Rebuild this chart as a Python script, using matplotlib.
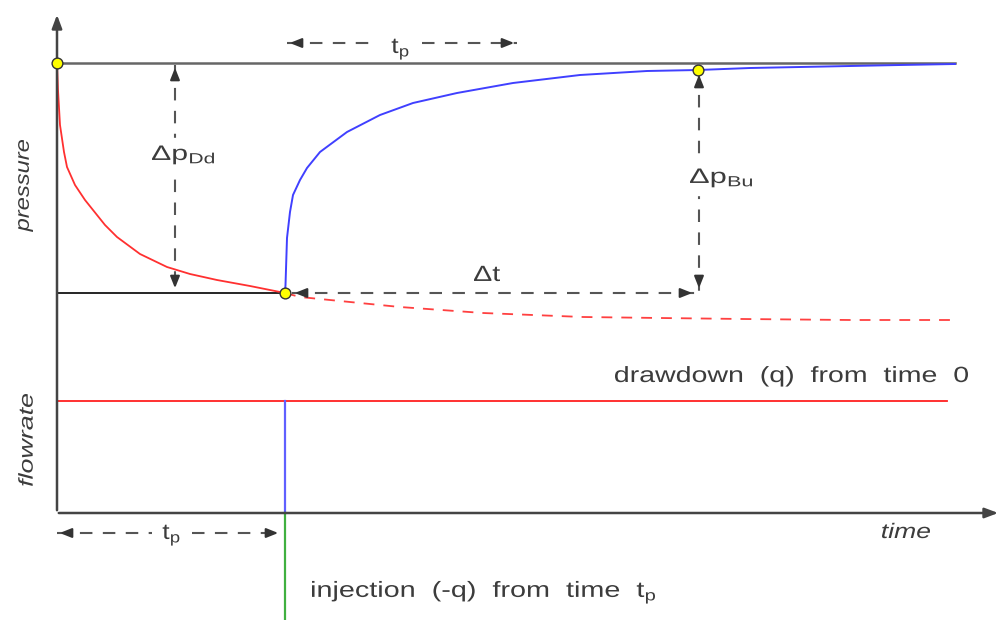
import matplotlib.pyplot as plt
from matplotlib.textpath import TextPath
from matplotlib.patches import PathPatch
from matplotlib.font_manager import FontProperties
from matplotlib.transforms import Affine2D

plt.rcParams['font.family'] = ['Liberation Sans', 'DejaVu Sans']
plt.rcParams['mathtext.fontset'] = 'custom'
plt.rcParams['mathtext.rm'] = 'Liberation Sans'
plt.rcParams['mathtext.it'] = 'Liberation Sans:italic'

# schematic sketch coordinates (x = time, y = depth on the page, downwards)
t0, tp, t_bu, t_end = 57, 285, 698, 955
p_init, p_tp = 63, 293
q_level, axis_y = 401, 513

# drawdown from time 0 up to tp
dd_t = [57, 58, 60, 64, 67, 75, 85, 93, 105, 117, 140, 167, 190, 217, 250, 285]
dd_p = [63, 90, 125, 152, 167, 185, 200, 210, 225, 237, 254, 267, 274, 280, 286, 293]

# drawdown continued past tp (superposition, dashed)
ext_t = [285, 300, 350, 400, 483, 583, 660, 743, 850, 955]
ext_p = [293, 297, 302, 307, 313, 317, 318, 319, 320, 320]

# build-up after shut-in
bu_t = [285, 285.5, 287, 290, 293, 300, 307, 320, 347, 380, 413, 457, 513, 580, 647, 698, 750, 800, 850, 900, 955]
bu_p = [293, 285, 238, 212, 195, 180, 168, 152, 132, 115, 103, 93, 83, 75, 71, 70, 68, 67, 66, 65, 64]

dot_t = [t0, tp, t_bu]
dot_p = [p_init, p_tp, 70]

grey = '#555555'
txt = '#3c3c3c'

fig = plt.figure(figsize=(10.03, 6.2), dpi=100)
ax = fig.add_axes([0, 0, 1, 1])
ax.set_xlim(0, 1003)
ax.set_ylim(620, 0)
ax.axis('off')


def label(x, y, s, size=22, sx=1.2, width=None, ha='left', va='baseline', rot=0, italic=False):
    # text drawn as a path so it can be stretched horizontally
    fp = FontProperties(family='Liberation Sans', style='italic' if italic else 'normal')
    path = TextPath((0, 0), s, size=size, prop=fp)
    ext = path.get_extents()
    if width is not None:
        sx = width / ext.width
    x_anchor = {'left': ext.x0, 'center': (ext.x0 + ext.x1) / 2, 'right': ext.x1}[ha]
    y_anchor = {'baseline': 0, 'center': (ext.y0 + ext.y1) / 2}[va]
    tr = (Affine2D().translate(-x_anchor, -y_anchor).scale(sx, 1)
          .rotate_deg(rot).scale(1, -1).translate(x, y))
    ax.add_patch(PathPatch(tr.transform_path(path), facecolor=txt, edgecolor='none', zorder=6))


# axes with arrows
ax.annotate('', xy=(t0, 12), xytext=(t0, axis_y),
            arrowprops=dict(arrowstyle='-|>,head_length=0.8,head_width=0.3', color='#444444', lw=1.8))
ax.annotate('', xy=(1001, axis_y), xytext=(t0 - 1, axis_y),
            arrowprops=dict(arrowstyle='-|>,head_length=0.8,head_width=0.3', color='#444444', lw=1.8))

# reference lines
ax.plot([t0, t_end], [p_init, p_init], color='#666666', lw=1.8)
ax.plot([t0, tp], [p_tp, p_tp], color='black', lw=1.2)

# pressure curves
ax.plot(dd_t, dd_p, color='#ff3030', lw=1.3)
ax.plot(ext_t, ext_p, color='#ff4040', lw=1.3, dashes=(6, 5))
ax.plot(bu_t, bu_p, color='#4040ff', lw=1.4)

# rate history
ax.plot([t0, 947], [q_level, q_level], color='#ff2020', lw=1.3)
ax.plot([tp, tp], [q_level, axis_y], color='#6060ff', lw=1.6)
ax.plot([tp, tp], [axis_y, 620], color='#40b040', lw=1.6)

ax.scatter(dot_t, dot_p, s=60, color='#ffff00', edgecolor='#333333', lw=1, zorder=5)


def dashed_arrow(x0, y0, x1, y1, both=True, gap=None):
    # dashed shaft with solid heads
    if gap is None:
        ax.plot([x0, x1], [y0, y1], color=grey, lw=1.5, dashes=(6, 5))
    else:
        ax.plot([x0, gap[0]], [y0, y0], color=grey, lw=1.5, dashes=(6, 5))
        ax.plot([gap[1], x1], [y1, y1], color=grey, lw=1.5, dashes=(6, 5))
    dx, dy = x1 - x0, y1 - y0
    n = (dx ** 2 + dy ** 2) ** 0.5
    ux, uy = dx / n * 14, dy / n * 14
    style = dict(arrowstyle='-|>,head_length=0.7,head_width=0.28', color='#333333', lw=1.5)
    ax.annotate('', xy=(x1, y1), xytext=(x1 - ux, y1 - uy), arrowprops=style)
    if both:
        ax.annotate('', xy=(x0, y0), xytext=(x0 + ux, y0 + uy), arrowprops=style)


dashed_arrow(287, 43, 517, 43, gap=(378, 422))
dashed_arrow(175, 65, 175, 291)
dashed_arrow(699, 72, 699, 291)
dashed_arrow(292, p_tp, 695, p_tp)
dashed_arrow(57, 533, 281, 533, gap=(152, 192))

# white backing behind the vertical arrow labels
ax.fill_between([150, 217], 138, 170, color='white', zorder=4)
ax.fill_between([688, 754], 160, 195, color='white', zorder=4)

label(400, 53, r'$\mathrm{t}_{\mathrm{p}}$', ha='center')
label(171, 539, r'$\mathrm{t}_{\mathrm{p}}$', ha='center')
label(152, 160, r'$\Delta\mathrm{p}_{\mathrm{Dd}}$', size=21, width=62)
label(690, 183, r'$\Delta\mathrm{p}_{\mathrm{Bu}}$', size=21, width=62)
label(487, 281, r'$\Delta\mathrm{t}$', ha='center', width=26)

label(25.5, 186, 'pressure', size=20, width=92, ha='center', va='center', rot=90, italic=True)
label(25.5, 440, 'flowrate', size=20, width=92, ha='center', va='center', rot=90, italic=True)
label(906, 538, 'time', size=21, width=48, ha='center', italic=True)

label(615, 382, 'drawdown  (q)  from  time  0', size=22, width=353)
label(312, 597, r'injection  (-q)  from  time  $\mathrm{t}_{\mathrm{p}}$', size=22, width=343)

fig.savefig('out.png', dpi=100, facecolor='white')
